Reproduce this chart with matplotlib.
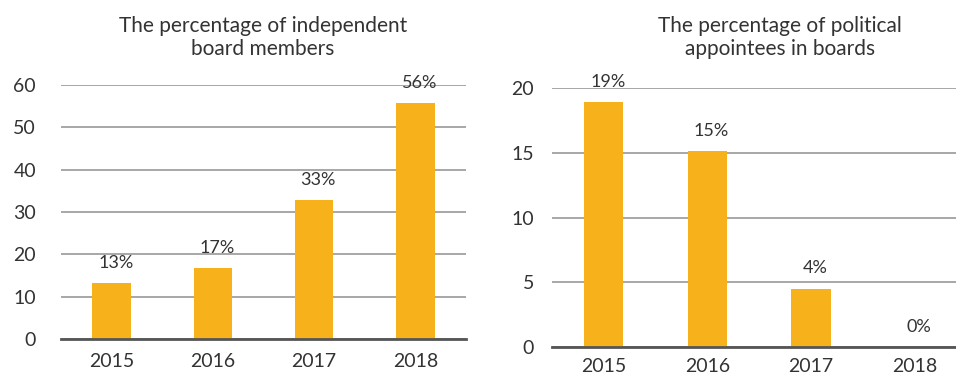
import numpy as np
from matplotlib import pyplot as plt

years = ["2015", "2016", "2017", "2018"]
independent = [13.2, 16.7, 32.8, 55.7]
independent_labels = ["13%", "17%", "33%", "56%"]
political = [18.9, 15.1, 4.5, 0.0]
political_labels = ["19%", "15%", "4%", "0%"]

BAR = "#F7B21B"
TEXT = "#333333"

plt.rcParams['font.family'] = ['Lato', 'DejaVu Sans']

fig = plt.figure(figsize=(9.56, 3.79), dpi=100)
ax1 = fig.add_axes([0.0638, 0.1055, 0.4236, 0.670])
ax2 = fig.add_axes([0.5774, 0.0844, 0.4226, 0.6834])


def draw(ax, values, labels, ymax, step, pad_y, pad_x, xmax):
    x = np.arange(len(years))
    ax.bar(x, values, width=0.38, color=BAR, zorder=2)
    for xi, v, lab in zip(x, values, labels):
        ax.annotate(lab, (xi, v), xytext=(3, 9), textcoords="offset points",
                    ha="center", va="bottom", fontsize=13, color=TEXT,
                    annotation_clip=False)
    ax.set_xlim(-0.5, xmax)
    ax.set_ylim(0, ymax)
    ax.set_yticks(np.arange(0, ymax + 1, step))
    ax.set_xticks(x)
    ax.set_xticklabels(years)
    ax.grid(axis="y", color="#a0a0a0", linewidth=1.3, zorder=0)
    for s in ["top", "right", "left"]:
        ax.spines[s].set_visible(False)
    ax.spines["bottom"].set_color("#555555")
    ax.spines["bottom"].set_linewidth(2)
    ax.spines["bottom"].set_zorder(3)
    ax.tick_params(axis="both", length=0, labelsize=14, labelcolor=TEXT)
    ax.tick_params(axis="y", pad=pad_y)
    ax.tick_params(axis="x", pad=pad_x)


draw(ax1, independent, independent_labels, 60, 10, 18, 10, 3.5)
draw(ax2, political, political_labels, 20, 5, 13, 8, 3.4)

fig.text(0.275, 0.902, "The percentage of independent\nboard members",
         ha="center", va="center", fontsize=15, color=TEXT, linespacing=1.2)
fig.text(0.816, 0.902, "The percentage of political\nappointees in boards",
         ha="center", va="center", fontsize=15, color=TEXT, linespacing=1.2)

fig.savefig("out.png", dpi=100)
